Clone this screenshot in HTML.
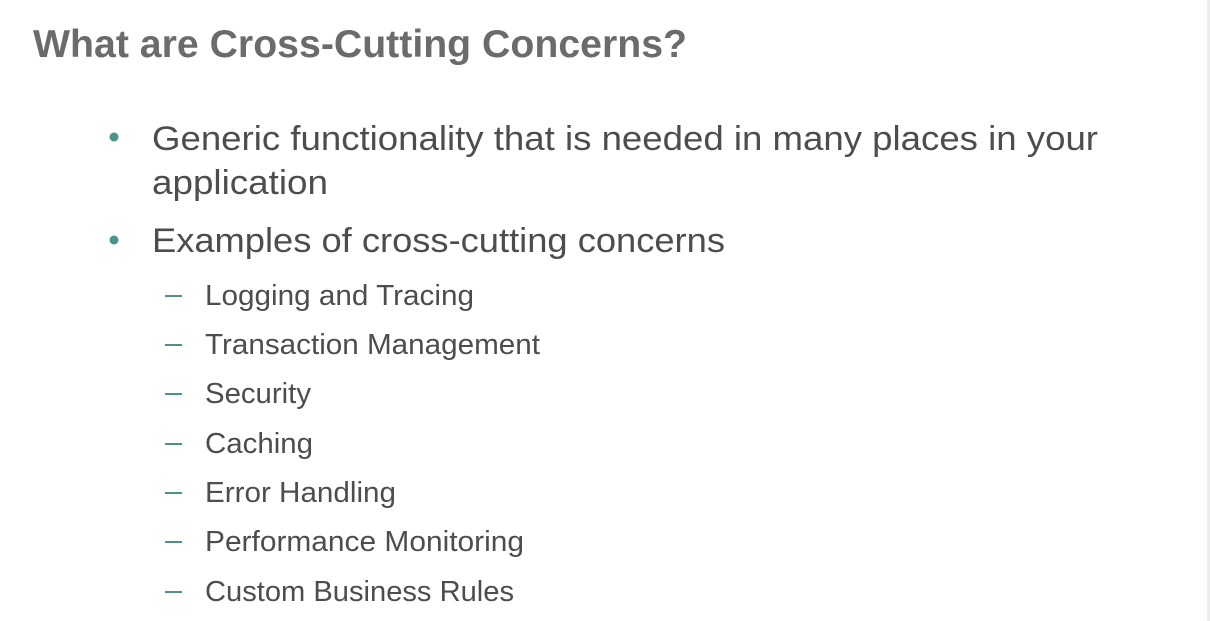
<!DOCTYPE html>
<html><head><meta charset="utf-8"><style>
html,body{margin:0;padding:0;background:#fff;}
svg{display:block;}
text{font-family:"Liberation Sans",sans-serif;}
</style></head><body>
<svg width="1210" height="621" viewBox="0 0 1210 621">
<rect x="0" y="0" width="1210" height="621" fill="#fff"/>
<rect x="1207" y="0" width="3" height="621" fill="#ececec"/>
<text x="33" y="57" font-size="39" font-weight="bold" fill="#6b6b6e" textLength="654" lengthAdjust="spacingAndGlyphs">What are Cross-Cutting Concerns?</text>
<circle cx="114" cy="137" r="4.5" fill="#4a9389"/>
<text x="152" y="150" font-size="34" fill="#4d4d4f" textLength="946" lengthAdjust="spacingAndGlyphs">Generic functionality that is needed in many places in your</text>
<text x="152" y="194" font-size="34" fill="#4d4d4f" textLength="176" lengthAdjust="spacingAndGlyphs">application</text>
<circle cx="114" cy="240" r="4.5" fill="#4a9389"/>
<text x="152" y="252" font-size="34" fill="#4d4d4f" textLength="573" lengthAdjust="spacingAndGlyphs">Examples of cross-cutting concerns</text>
<g fill="#4d4d4f" font-size="29">
<rect x="165" y="295" width="17" height="2" fill="#4a9389"/>
<text x="205" y="305" textLength="269" lengthAdjust="spacingAndGlyphs">Logging and Tracing</text>
<rect x="165" y="344" width="17" height="2" fill="#4a9389"/>
<text x="205" y="354" textLength="335" lengthAdjust="spacingAndGlyphs">Transaction Management</text>
<rect x="165" y="393" width="17" height="2" fill="#4a9389"/>
<text x="205" y="403" textLength="106" lengthAdjust="spacingAndGlyphs">Security</text>
<rect x="165" y="443" width="17" height="2" fill="#4a9389"/>
<text x="205" y="453" textLength="108" lengthAdjust="spacingAndGlyphs">Caching</text>
<rect x="165" y="492" width="17" height="2" fill="#4a9389"/>
<text x="205" y="502" textLength="191" lengthAdjust="spacingAndGlyphs">Error Handling</text>
<rect x="165" y="541" width="17" height="2" fill="#4a9389"/>
<text x="205" y="551" textLength="319" lengthAdjust="spacingAndGlyphs">Performance Monitoring</text>
<rect x="165" y="591" width="17" height="2" fill="#4a9389"/>
<text x="205" y="601" textLength="309" lengthAdjust="spacingAndGlyphs">Custom Business Rules</text>
</g>
</svg>
</body></html>
